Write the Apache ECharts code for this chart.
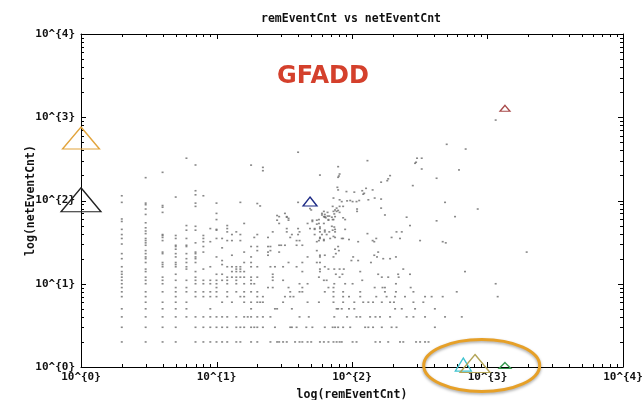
<!DOCTYPE html>
<html><head><meta charset="utf-8">
<script src="https://cdn.jsdelivr.net/npm/echarts@6/dist/echarts.min.js"></script>
<style>html,body{margin:0;padding:0;background:#fff}#c{width:642px;height:400px}</style>
</head><body><div id="c"></div>
<script>
const chartTitle = 'remEventCnt vs netEventCnt';
const xAxisName = 'log(remEventCnt)';
const yAxisName = 'log(netEventCnt)';
const annotationText = 'GFADD';
const decadeValues = [1, 10, 100, 1000, 10000];
const tickLabels = ['10^{0}', '10^{1}', '10^{2}', '10^{3}', '10^{4}'];

// integer remEventCnt columns (x = 2..12) with their netEventCnt values
const columnX = [2, 3, 4, 5, 6, 7, 8, 9, 10, 11, 12];
const columnY = [
  [114,95,60,56,45,39,35,30,23,20,16,14,13,12,11,10,9,8,7,5,4,3,2],
  [188,93,89,79,68,54,47,43,40,35,33,31,29,25,23,21,20,18,15,14,12,11,10,8,7,6,5,4,3,2],
  [218,87,83,72,39,38,36,33,24,23,18,17,16,12,11,10,8,6,5,4,3,2],
  [110,38,35,29,28,26,23,21,18,17,16,13,11,9,8,7,6,5,4,3,2],
  [322,50,44,35,29,28,23,20,18,16,15,11,9,8,6,5,4],
  [267,131,117,93,85,49,44,31,24,23,21,20,18,14,12,11,10,8,7,4,3,2],
  [114,38,35,32,28,24,15,11,10,8,7,4,3,2],
  [46,32,16,11,10,8,7,5,4,3,2],
  [93,70,59,45,44,35,21,13,11,10,9,8,7,4,3,2],
  [35,27,19,17,13,11,6,4,3,2],
  [50,46,42,33,16,12,11,10,8,7,4,3,2]
];

// points with remEventCnt 13..75
const midCloud = [
  [14,2],[15,2],[18,2],[20,2],[25,2],[28,2],[29,2],[31,2],[33,2],[38,2],[41,2],[43,2],[47,2],[50,2],[58,2],[62,2],[67,2],
  [14,3],[15,3],[16,3],[18,3],[19,3],[20,3],[22,3],[27,3],[35,3],[36,3],[39,3],[46,3],[51,3],[63,3],
  [14,4],[16,4],[17,4],[18,4],[20,4],[22,4],[25,4],[41,4],[48,4],
  [18,5],[27,5],[28,5],[36,5],
  [13,6],[16,6],[18,6],[20,6],[21,6],[22,6],[31,6],[47,6],[57,6],
  [15,7],[16,7],[20,7],[22,7],[32,7],[35,7],[37,7],
  [14,8],[16,8],[18,8],[20,8],[35,8],[41,8],[43,8],[63,8],
  [24,9],[26,9],[34,9],[43,9],[67,9],
  [14,10],[16,10],[18,10],[19,10],[41,10],[47,10],
  [14,11],[18,11],[26,11],[31,11],[62,11],[65,11],
  [13,12],[14,12],[15,12],[16,12],[18,12],[20,12],[26,12],[57,12],
  [26,13],
  [13,14],[14,14],[15,14],[16,14],[43,14],[58,14],
  [14,15],[15,15],[58,15],[67,15],
  [13,16],[14,16],[15,16],[18,16],[20,16],[25,16],[27,16],[31,16],[39,16],[63,16],
  [16,18],[18,18],[34,18],[43,18],[55,18],[58,18],
  [18,21],[47,21],[58,21],
  [13,22],[24,22],[58,22],[63,22],
  [16,24],[24,24],[29,24],
  [20,25],[25,25],[55,25],
  [18,28],[20,28],[24,28],[25,28],
  [29,29],[30,29],[32,29],[39,29],[43,29],
  [13,33],[15,33],[39,33],[41,33],[57,33],[62,33],
  [19,36],[24,36],[35,36],[58,36],
  [13,39],[15,39],[20,39],[36,39],[40,39],[53,39],
  [14,42],[26,42],[33,42],[41,42],[63,42],
  [33,46],[40,46],[49,46],[53,46],[58,46],
  [16,53],[29,53],[47,53],[57,53],[62,53],
  [34,58],[51,58],[55,58],[67,58],
  [29,64],[33,64],[62,64],[63,64],
  [50,77],[62,74],[60,67],[63,63],[66,65],[71,63],[67,59],[73,74],[57,59],[51,56],[55,52],[58,48],
  [53,45],[58,42],[63,44],[68,42],[60,39],[65,39],[69,35],[58,35],[55,32],[62,34],[73,37],[75,45],
  [71,49],[73,59],[75,64],[60,70],[63,68],[66,72],[68,65],[64,62],
  [40,380],[18,266],[22,250],[22,228],[58,202],[15,95],[20,92],[21,86],[40,95],[49,80],
  [28,66],[28,58],[32,70],[33,63],[34,61]
];

// points with remEventCnt 72..2000
const rightCloud = [
  [302,322],[327,322],[292,280],[297,288],[327,239],[130,301],[79,255],[81,208],[80,197],[79,190],
  [191,199],[185,182],[182,173],[164,166],[421,185],[281,151],
  [78,144],[79,134],[91,128],[104,126],[119,131],[121,119],[123,122],[127,140],[142,134],
  [73,107],[81,102],[84,97],[92,99],[97,100],[101,97],[108,97],[113,100],[132,102],[147,107],[164,104],
  [72,85],[77,81],[81,85],[86,85],[75,77],[77,74],[79,76],[74,69],[81,72],[109,79],[109,74],
  [164,81],[175,67],[253,63],[268,50],[421,57],
  [86,62],[89,59],[72,59],[74,48],[72,44],[75,42],[89,45],
  [233,42],[226,35],[213,42],[196,36],[151,35],[142,33],[146,32],[130,40],[111,32],[95,34],[86,35],[75,36],[84,35],[318,33],
  [156,24],[146,22],[153,21],[170,20],[191,20],[211,21],[138,18],[111,19],[99,19],[102,21],[79,28],[80,25],[75,26],[76,23],[73,21],
  [239,15],[268,13],[219,13],[221,12],[185,12],[166,12],[156,13],[115,14],[81,15],[87,15],[74,15],[85,13],[81,12],[76,13],
  [271,9],[211,10],[168,9],[175,9],[147,9],[119,11],[101,10],[89,10],[74,10],[73,9],
  [73,8],[86,8],[115,8],[175,8],[211,8],[284,8],
  [73,7],[86,7],[95,7],[115,7],[151,7],[180,7],[208,7],[246,7],[346,7],
  [73,6],[86,6],[104,6],[121,6],[132,6],[143,6],[166,6],[191,6],[204,6],[284,6],[336,6],
  [77,5],[79,5],[84,5],[95,5],[104,5],[208,5],[233,5],[292,5],[409,5],
  [74,4],[92,4],[108,4],[115,4],[136,4],[149,4],[161,4],[191,4],[253,4],[284,4],[346,4],
  [72,3],[75,3],[79,3],[86,3],[97,3],[125,3],[132,3],[143,3],[166,3],[196,3],[213,3],[409,3],
  [73,2],[77,2],[81,2],[84,2],[101,2],[108,2],[149,2],[161,2],[185,2],[226,2],[239,2],[297,2],[318,2],[346,2],[367,2],
  [1149,925],[500,473],[690,415],[616,233],[486,95],[847,79],[576,64],[467,32],[492,31],[1946,24],
  [682,14],[1149,10],[593,8],[387,7],[467,7],[1189,7],[486,4],[646,4]
];

// highlighted entities (triangles)
const triangleValues = [[1, 563], [1, 102], [49, 97], [1346, 1279], [663, 1.07], [809, 1.1], [1346, 1.04]];
const triangleColors = ['#e2a43c', '#222222', '#1c2a85', '#a84a4a', '#3fc3cf', '#b3a558', '#3a9a52'];
const triangleSizes = [[37, 22], [40, 24], [14, 9], [10, 6], [16, 13], [30, 18], [12, 6]];

// annotation anchor (oval around the 10^3 group)
const ovalAnchor = [906, 1.04];

const pointData = [];
columnX.forEach((x, i) => columnY[i].forEach(y => pointData.push([x, y])));
midCloud.forEach(p => pointData.push(p));
rightCloud.forEach(p => pointData.push(p));

// tick values: decades plus 2..9 multiples
const tickData = [];
for (let e = 0; e < 4; e++) {
  for (let k = 1; k <= 9; k++) {
    const v = k * decadeValues[e];
    tickData.push([v, 1, 0]);
    tickData.push([1, v, 1]);
  }
}
tickData.push([10000, 1, 0]);
tickData.push([1, 10000, 1]);

const monoFont = 'DejaVu Sans Mono';
const labelFmt = v => tickLabels[Math.round(Math.log10(v))];

const chart = echarts.init(document.getElementById('c'), null, {renderer: 'canvas'});

const triSeries = triangleValues.map((p, i) => ({
  type: 'scatter', data: [p], symbol: 'triangle', symbolSize: triangleSizes[i],
  clip: false, silent: true, z: 5,
  itemStyle: {color: 'rgba(255,255,255,0)', borderColor: triangleColors[i], borderWidth: 1.3, opacity: 1}
}));

chart.setOption({
  animation: false,
  backgroundColor: '#fff',
  grid: {left: 81, top: 34, width: 542, height: 333, show: false, containLabel: false, outerBoundsMode: 'none'},
  xAxis: [
    {type: 'log', logBase: 10, min: 1, max: 10000, position: 'bottom',
     name: xAxisName, nameLocation: 'middle', nameGap: 22, nameMoveOverlap: false,
     nameTextStyle: {fontFamily: monoFont, fontWeight: 'bold', fontSize: 11.5, color: '#111'},
     axisLine: {show: true, lineStyle: {color: '#000', width: 1}},
     axisTick: {show: false}, minorTick: {show: false}, splitLine: {show: false},
     axisLabel: {formatter: labelFmt, margin: 5, fontFamily: monoFont, fontWeight: 'bold', fontSize: 11, color: '#111',
                 showMinLabel: true, showMaxLabel: true}},
    {type: 'log', logBase: 10, min: 1, max: 10000, position: 'top',
     axisLine: {show: true, lineStyle: {color: '#000', width: 1}},
     axisTick: {show: false}, axisLabel: {show: false}, splitLine: {show: false}}
  ],
  yAxis: [
    {type: 'log', logBase: 10, min: 1, max: 10000, position: 'left',
     name: yAxisName, nameLocation: 'middle', nameGap: 44, nameRotate: 90, nameMoveOverlap: false,
     nameTextStyle: {fontFamily: monoFont, fontWeight: 'bold', fontSize: 11.5, color: '#111'},
     axisLine: {show: true, lineStyle: {color: '#000', width: 1}},
     axisTick: {show: false}, minorTick: {show: false}, splitLine: {show: false},
     axisLabel: {formatter: labelFmt, margin: 6, fontFamily: monoFont, fontWeight: 'bold', fontSize: 11, color: '#111',
                 showMinLabel: true, showMaxLabel: true}},
    {type: 'log', logBase: 10, min: 1, max: 10000, position: 'right',
     axisLine: {show: true, lineStyle: {color: '#000', width: 1}},
     axisTick: {show: false}, axisLabel: {show: false}, splitLine: {show: false}}
  ],
  series: [
    {type: 'scatter', data: pointData, symbol: 'rect', symbolSize: [2, 1.6], silent: true,
     itemStyle: {color: '#6a6a6a'}, z: 2},
    {type: 'custom', data: tickData, silent: true, clip: false, z: 4,
     renderItem: function (params, api) {
       const v0 = api.value(0), v1 = api.value(1), kind = api.value(2);
       const val = kind === 0 ? v0 : v1;
       const lg = Math.log10(val);
       const major = Math.abs(lg - Math.round(lg)) < 1e-9;
       const len = major ? 5 : 3;
       const st = {stroke: '#000', lineWidth: 1};
       if (kind === 0) {
         const b = api.coord([v0, 1]);
         const t = api.coord([v0, 10000]);
         const x = Math.round(b[0]) + 0.5;
         return {type: 'group', children: [
           {type: 'line', shape: {x1: x, y1: b[1], x2: x, y2: b[1] - len}, style: st},
           {type: 'line', shape: {x1: x, y1: t[1], x2: x, y2: t[1] + len}, style: st}
         ]};
       } else {
         const l = api.coord([1, v1]);
         const r = api.coord([10000, v1]);
         const y = Math.round(l[1]) + 0.5;
         return {type: 'group', children: [
           {type: 'line', shape: {x1: l[0], y1: y, x2: l[0] + len, y2: y}, style: st},
           {type: 'line', shape: {x1: r[0], y1: y, x2: r[0] - len, y2: y}, style: st}
         ]};
       }
     }}
  ].concat(triSeries)
});

const oc = chart.convertToPixel({xAxisIndex: 0, yAxisIndex: 0}, ovalAnchor);
chart.setOption({
  graphic: [
    {type: 'text', x: 351, y: 19, z: 10,
     style: {text: chartTitle, textAlign: 'center', textVerticalAlign: 'middle',
             font: 'bold 11.5px "DejaVu Sans Mono"', fill: '#111'}},
    {type: 'text', x: 323, y: 77, z: 10,
     style: {text: annotationText, textAlign: 'center', textVerticalAlign: 'middle',
             font: 'bold 24px "DejaVu Sans"', fill: '#d4402c'}},
    {type: 'ellipse', z: 10, shape: {cx: oc[0], cy: oc[1], rx: 58, ry: 26},
     style: {fill: 'none', stroke: '#e6a028', lineWidth: 3,
             shadowBlur: 3, shadowColor: 'rgba(0,0,0,0.35)', shadowOffsetY: 1.5}}
  ]
});
</script>
</body></html>
